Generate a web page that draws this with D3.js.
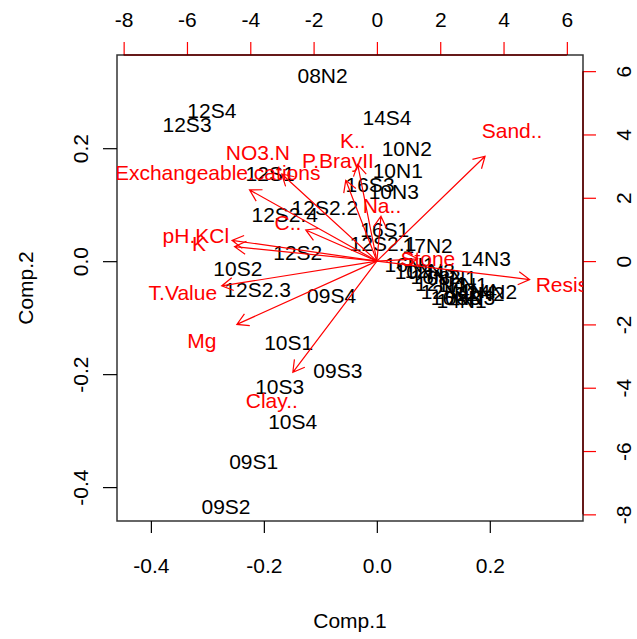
<!DOCTYPE html>
<html>
<head>
<meta charset="utf-8">
<script src="https://cdn.jsdelivr.net/npm/d3@7"></script>
<style>
  body { margin: 0; background: #fff; }
  text { font-family: "Liberation Sans", Arial, sans-serif; }
</style>
</head>
<body>
<div id="chart"></div>
<script>
// Observation scores (black labels)
const obsNames = ['08N2', '12S4', '12S3', '14S4', '10N2', '10N1', '16S3', '10N3', '12S1',
  '12S2.2', '12S2.4', '12S2', '16S1', '12S2.1', '17N2', '14N3', '10S2', '12S2.3', '09S4',
  '10S1', '09S3', '10S3', '10S4', '09S1', '09S2',
  '16N1', '10N4', '12N3', '16N2', '08N1', '12N4', '17N1', '12N1', '14N4', '12N2', '14N2',
  '16N3', '08N3', '14N1'];
const obsComp1 = [-0.096, -0.292, -0.336, 0.018, 0.053, 0.037, -0.012, 0.030, -0.189,
  -0.092, -0.163, -0.140, 0.014, 0.011, 0.090, 0.193, -0.246, -0.211, -0.080,
  -0.156, -0.069, -0.172, -0.149, -0.218, -0.267,
  0.058, 0.076, 0.094, 0.104, 0.133, 0.112, 0.152, 0.122, 0.168, 0.182, 0.204,
  0.140, 0.165, 0.150];
const obsComp2 = [0.329, 0.267, 0.242, 0.255, 0.200, 0.161, 0.136, 0.124, 0.156,
  0.096, 0.083, 0.016, 0.057, 0.032, 0.028, 0.004, -0.012, -0.050, -0.060,
  -0.143, -0.193, -0.221, -0.283, -0.354, -0.435,
  -0.005, -0.019, -0.016, -0.027, -0.028, -0.039, -0.041, -0.053, -0.051, -0.057, -0.053,
  -0.064, -0.065, -0.069];

// Variable loadings (red arrows)
const varNames = ['Sand..', 'Resis..', 'Stone', 'K..', 'P.BrayII', 'NO3.N',
  'Exchangeable.cations', 'C..', 'pH.KCl', 'K', 'T.Value', 'Mg', 'Clay..', 'Na..'];
const varComp1 = [4.27, 6.03, 1.61, -0.76, -1.23, -3.76, -5.03, -2.81, -5.72, -5.62, -6.13, -5.53, -3.32, 0.16];
const varComp2 = [4.14, -0.73, 0.09, 3.82, 3.19, 3.44, 2.81, 1.23, 0.82, 0.57, -0.98, -2.50, -4.39, 1.77];

// Tick values
const compTicks = [-0.4, -0.2, 0.0, 0.2];
const loadTicks = [-8, -6, -4, -2, 0, 2, 4, 6];

const w = 637;
const h = 639;
const pLeft = 117, pRight = 583, pTop = 55, pBottom = 521;
const fontSize = 21;

const x = d3.scaleLinear().domain([-0.46, 0.365]).range([pLeft, pRight]);
const y = d3.scaleLinear().domain([-0.46, 0.365]).range([pBottom, pTop]);
const x2 = d3.scaleLinear().domain([-8.21, 6.51]).range([pLeft, pRight]);
const y2 = d3.scaleLinear().domain([-8.21, 6.51]).range([pBottom, pTop]);

const svg = d3.select('#chart').append('svg')
    .attr('width', w)
    .attr('height', h);

svg.append('defs').append('clipPath')
    .attr('id', 'plotclip')
  .append('rect')
    .attr('x', pLeft).attr('y', pTop)
    .attr('width', pRight - pLeft).attr('height', pBottom - pTop);

// observation labels
const obs = obsNames.map((n, i) => ({name: n, c1: obsComp1[i], c2: obsComp2[i]}));
svg.append('g')
    .attr('clip-path', 'url(#plotclip)')
  .selectAll('text')
  .data(obs)
  .enter()
  .append('text')
    .attr('x', (d) => x(d.c1))
    .attr('y', (d) => y(d.c2))
    .attr('dy', '0.36em')
    .attr('text-anchor', 'middle')
    .attr('font-size', fontSize)
    .attr('fill', '#000')
    .text((d) => d.name);

// shared axis styling
function styleAxis(g, color) {
  g.select('.domain').remove();
  g.selectAll('.tick line').attr('stroke', color).attr('stroke-width', 1.2);
  g.selectAll('.tick text')
      .attr('font-size', fontSize)
      .attr('fill', '#000')
      .attr('font-family', '"Liberation Sans", Arial, sans-serif');
}

// bottom and left axes (black)
svg.append('g')
    .attr('transform', 'translate(0,' + pBottom + ')')
    .call(d3.axisBottom(x).tickValues(compTicks).tickSize(12).tickFormat((d) => d.toFixed(1)))
    .call((g) => styleAxis(g, '#000'))
    .call((g) => g.selectAll('.tick text').attr('y', 52).attr('dy', null));

svg.append('g')
    .attr('transform', 'translate(' + pLeft + ',0)')
    .call(d3.axisLeft(y).tickValues(compTicks).tickSize(14).tickFormat((d) => d.toFixed(1)))
    .call((g) => styleAxis(g, '#000'))
    .call((g) => g.selectAll('.tick text')
        .attr('x', null).attr('dy', null)
        .attr('text-anchor', 'middle')
        .attr('transform', 'translate(-29,0) rotate(-90)'));

// top and right axes (red, loadings)
svg.append('g')
    .attr('transform', 'translate(0,' + pTop + ')')
    .call(d3.axisTop(x2).tickValues(loadTicks).tickSize(13).tickFormat((d) => String(d)))
    .call((g) => styleAxis(g, 'red'))
    .call((g) => g.selectAll('.tick text').attr('y', -28).attr('dy', null));

svg.append('g')
    .attr('transform', 'translate(' + pRight + ',0)')
    .call(d3.axisRight(y2).tickValues(loadTicks).tickSize(13).tickFormat((d) => String(d)))
    .call((g) => styleAxis(g, 'red'))
    .call((g) => g.selectAll('.tick text')
        .attr('x', null).attr('dy', null)
        .attr('text-anchor', 'middle')
        .attr('transform', 'translate(48,0) rotate(-90)'));

// red axis lines from first to last tick
svg.append('line')
    .attr('x1', x2(loadTicks[0])).attr('x2', x2(loadTicks[loadTicks.length - 1]))
    .attr('y1', pTop).attr('y2', pTop)
    .attr('stroke', 'red').attr('stroke-width', 1.5);
svg.append('line')
    .attr('x1', pRight).attr('x2', pRight)
    .attr('y1', y2(loadTicks[0])).attr('y2', y2(loadTicks[loadTicks.length - 1]))
    .attr('stroke', 'red').attr('stroke-width', 1.5);

// box
svg.append('rect')
    .attr('x', pLeft).attr('y', pTop)
    .attr('width', pRight - pLeft).attr('height', pBottom - pTop)
    .attr('fill', 'none')
    .attr('stroke', '#000')
    .attr('stroke-opacity', 0.8)
    .attr('stroke-width', 1.5);

// axis titles
svg.append('text')
    .attr('x', (pLeft + pRight) / 2)
    .attr('y', 628)
    .attr('text-anchor', 'middle')
    .attr('font-size', fontSize)
    .text('Comp.1');

svg.append('text')
    .attr('transform', 'translate(33,' + ((pTop + pBottom) / 2) + ') rotate(-90)')
    .attr('text-anchor', 'middle')
    .attr('font-size', fontSize)
    .text('Comp.2');

// variable labels and arrows
const vars = varNames.map((n, i) => ({name: n, c1: varComp1[i], c2: varComp2[i]}));
const varG = svg.append('g').attr('clip-path', 'url(#plotclip)');

varG.selectAll('text')
  .data(vars)
  .enter()
  .append('text')
    .attr('x', (d) => x2(d.c1))
    .attr('y', (d) => y2(d.c2))
    .attr('dy', '0.36em')
    .attr('text-anchor', 'middle')
    .attr('font-size', fontSize)
    .attr('fill', 'red')
    .text((d) => d.name);

// arrows are drawn to 0.8 of the loadings, like R's biplot
const headLen = 13;
const headAng = Math.PI / 6;
function arrowPath(d) {
  const x0 = x2(0), y0 = y2(0);
  const x1 = x2(d.c1 * 0.8), y1 = y2(d.c2 * 0.8);
  const a = Math.atan2(y1 - y0, x1 - x0);
  const bx1 = x1 - headLen * Math.cos(a - headAng);
  const by1 = y1 - headLen * Math.sin(a - headAng);
  const bx2 = x1 - headLen * Math.cos(a + headAng);
  const by2 = y1 - headLen * Math.sin(a + headAng);
  return 'M' + x0 + ',' + y0 + 'L' + x1 + ',' + y1 +
    'M' + bx1 + ',' + by1 + 'L' + x1 + ',' + y1 + 'L' + bx2 + ',' + by2;
}

varG.selectAll('path')
  .data(vars)
  .enter()
  .append('path')
    .attr('d', arrowPath)
    .attr('fill', 'none')
    .attr('stroke', 'red')
    .attr('stroke-width', 1.2);
</script>
</body>
</html>
